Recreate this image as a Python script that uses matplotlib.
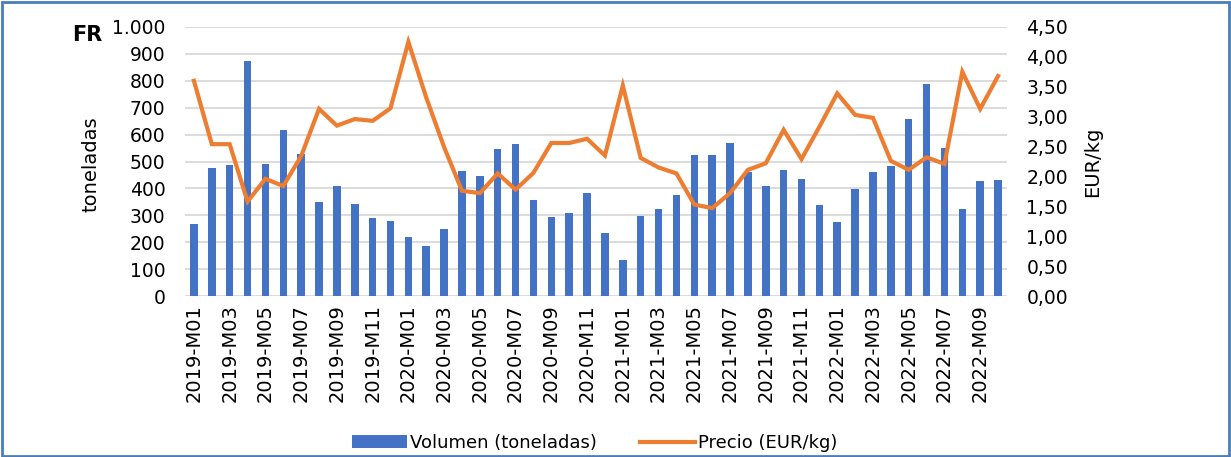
import matplotlib.pyplot as plt
from matplotlib.patches import Rectangle
from matplotlib.ticker import FuncFormatter, MultipleLocator

# Volumen mensual (toneladas) y precio medio (EUR/kg), FR, 2019-M01 .. 2022-M10
meses = [f"{a}-M{m:02d}" for a in range(2019, 2023) for m in range(1, 13)][:46]

volumen = [266, 477, 487, 873, 491, 617, 527, 351, 409, 342, 290, 277,
           218, 187, 250, 466, 445, 546, 566, 358, 292, 307, 383, 236,
           132, 298, 324, 377, 524, 524, 570, 462, 408, 467, 435, 337,
           276, 396, 461, 485, 659, 787, 551, 325, 429, 433]

precio = [3.60, 2.54, 2.54, 1.58, 1.96, 1.84, 2.34, 3.13, 2.85, 2.96, 2.93, 3.14,
          4.25, 3.32, 2.49, 1.76, 1.72, 2.05, 1.78, 2.06, 2.56, 2.56, 2.63, 2.35,
          3.52, 2.31, 2.15, 2.05, 1.53, 1.47, 1.72, 2.11, 2.22, 2.78, 2.29, 2.83,
          3.39, 3.03, 2.98, 2.26, 2.11, 2.32, 2.21, 3.75, 3.13, 3.68]

AZUL = "#4472c4"
NARANJA = "#ed7d31"
GRIS = "#d9d9d9"

fig = plt.figure(figsize=(12.31, 4.57), dpi=100)
ax1 = fig.add_axes([185 / 1231, 1 - 296 / 457, 822 / 1231, 269 / 457])
ax2 = ax1.twinx()

x = list(range(len(meses)))
barras = ax1.bar(x, volumen, width=0.42, color=AZUL, zorder=2,
                 label="Volumen (toneladas)")
linea, = ax2.plot(x, precio, color=NARANJA, linewidth=3.0, zorder=3,
                  solid_joinstyle="miter", label="Precio (EUR/kg)")

ax1.set_xlim(-0.5, len(meses) - 0.5)
ax1.set_ylim(0, 1000)
ax2.set_ylim(0, 4.5)
ax1.yaxis.set_major_locator(MultipleLocator(100))
ax2.yaxis.set_major_locator(MultipleLocator(0.5))
ax1.yaxis.set_major_formatter(FuncFormatter(lambda v, p: f"{v:,.0f}".replace(",", ".")))
ax2.yaxis.set_major_formatter(FuncFormatter(lambda v, p: f"{v:.2f}".replace(".", ",")))

ax1.set_xticks(x[::2])
ax1.set_xticklabels(meses[::2], rotation=90, fontsize=14)
ax1.grid(axis="y", color=GRIS, linewidth=1.3, zorder=0)
ax1.set_axisbelow(True)

for ax in (ax1, ax2):
    for s in ax.spines.values():
        s.set_visible(False)
    ax.tick_params(length=0, labelsize=13.5)
ax1.tick_params(axis="y", pad=14)
ax2.tick_params(axis="y", pad=14)
ax1.tick_params(axis="x", pad=6, labelsize=14)

ax1.set_ylabel("toneladas", fontsize=14)
ax2.set_ylabel("EUR/kg", fontsize=14)
ax1.yaxis.set_label_coords(-0.103, 0.49)
ax2.yaxis.set_label_coords(1.0925, 0.5)

fig.text(72 / 1231, 1 - 35 / 457, "FR", fontsize=15, fontweight="bold", va="center")

fig.legend([barras, linea], ["Volumen (toneladas)", "Precio (EUR/kg)"],
           loc="center", bbox_to_anchor=(595 / 1231, 1 - 443 / 457), ncol=2,
           frameon=False, fontsize=13, handlelength=3.0, handletextpad=0.2,
           columnspacing=2.4)

# marco exterior
fig.patches.append(Rectangle((0.002, 0.003), 0.996, 0.993, transform=fig.transFigure,
                             fill=False, edgecolor="#4a7ebb", linewidth=2))

fig.savefig("out.png", dpi=100)
